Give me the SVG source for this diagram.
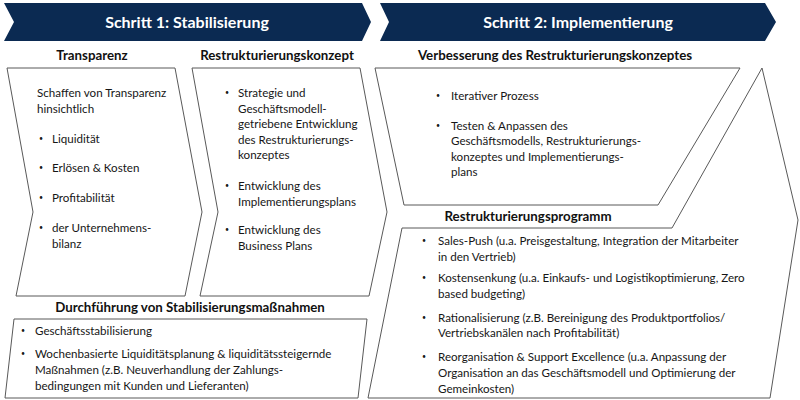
<svg xmlns="http://www.w3.org/2000/svg" width="800" height="400" viewBox="0 0 800 400">
<style>
.banner{fill:#0b2a52}
.box{fill:#ffffff;stroke:#595959;stroke-width:1}
.title{font-family:Lato,"Liberation Sans",sans-serif;font-size:16px;font-weight:bold;fill:#ffffff;text-anchor:middle}
.head{font-family:Lato,"Liberation Sans",sans-serif;font-size:13.3px;font-weight:bold;fill:#111111;text-anchor:middle}
.body{font-family:Lato,"Liberation Sans",sans-serif;font-size:11.6px;fill:#161616}
.bul{font-family:Lato,"Liberation Sans",sans-serif;font-size:7px;fill:#1a1a1a}
</style>
<rect width="800" height="400" fill="#ffffff"/>
<g id="step1">
<polygon class="banner" points="4,3 362,3 371,22 362,41 4,41 14,22"/>
<text class="title" x="187" y="28">Schritt 1: Stabilisierung</text>
</g>
<g id="step2">
<polygon class="banner" points="380,3 765,3 776,22 765,41 380,41 389,22"/>
<text class="title" x="578" y="28">Schritt 2: Implementierung</text>
</g>
<g id="transparenz">
<text class="head" x="92" y="60">Transparenz</text>
<polygon class="box" points="7,68 175,68 202,212 185,296 16,296 33,212"/>
<text class="body" x="37" y="97">Schaffen von Transparenz</text>
<text class="body" x="37" y="113">hinsichtlich</text>
<text class="bul" x="39" y="141">•</text><text class="body" x="52" y="143">Liquidität</text>
<text class="bul" x="39" y="170">•</text><text class="body" x="52" y="172">Erlösen &amp; Kosten</text>
<text class="bul" x="39" y="200">•</text><text class="body" x="52" y="202">Profitabilität</text>
<text class="bul" x="39" y="230">•</text><text class="body" x="52" y="232">der Unternehmens-</text>
<text class="body" x="52" y="248">bilanz</text>
</g>
<g id="restrukturierungskonzept">
<text class="head" x="277" y="60">Restrukturierungskonzept</text>
<polygon class="box" points="192,68 360,68 387,212 369,296 200,296 218,212"/>
<text class="bul" x="225" y="95">•</text><text class="body" x="238" y="97">Strategie und</text>
<text class="body" x="238" y="113">Geschäftsmodell-</text>
<text class="body" x="238" y="128">getriebene Entwicklung</text>
<text class="body" x="238" y="144">des Restrukturierungs-</text>
<text class="body" x="238" y="159">konzeptes</text>
<text class="bul" x="225" y="188">•</text><text class="body" x="238" y="190">Entwicklung des</text>
<text class="body" x="238" y="206">Implementierungsplans</text>
<text class="bul" x="225" y="232">•</text><text class="body" x="238" y="234">Entwicklung des</text>
<text class="body" x="238" y="250">Business Plans</text>
</g>
<g id="verbesserung">
<text class="head" x="555" y="60">Verbesserung des Restrukturierungskonzeptes</text>
<polygon class="box" points="375,68 740,68 658,205 404,205"/>
<text class="bul" x="436" y="98">•</text><text class="body" x="451" y="100">Iterativer Prozess</text>
<text class="bul" x="436" y="128">•</text><text class="body" x="451" y="130">Testen &amp; Anpassen des</text>
<text class="body" x="451" y="145">Geschäftsmodells, Restrukturierungs-</text>
<text class="body" x="451" y="161">konzeptes und Implementierungs-</text>
<text class="body" x="451" y="176">plans</text>
</g>
<g id="restrukturierungsprogramm">
<polygon class="box" points="402,228 672,228 762,68 798,220 770,398 368,398"/>
<text class="head" x="528" y="221">Restrukturierungsprogramm</text>
<text class="bul" x="422" y="243">•</text><text class="body" x="438" y="245">Sales-Push (u.a. Preisgestaltung, Integration der Mitarbeiter</text>
<text class="body" x="438" y="261">in den Vertrieb)</text>
<text class="bul" x="422" y="280">•</text><text class="body" x="438" y="282">Kostensenkung (u.a. Einkaufs- und Logistikoptimierung, Zero</text>
<text class="body" x="438" y="298">based budgeting)</text>
<text class="bul" x="422" y="320">•</text><text class="body" x="438" y="322">Rationalisierung (z.B. Bereinigung des Produktportfolios/</text>
<text class="body" x="438" y="337">Vertriebskanälen nach Profitabilität)</text>
<text class="bul" x="422" y="359">•</text><text class="body" x="438" y="361">Reorganisation &amp; Support Excellence (u.a.  Anpassung der</text>
<text class="body" x="438" y="377">Organisation an das Geschäftsmodell und Optimierung der</text>
<text class="body" x="438" y="393">Gemeinkosten)</text>
</g>
<g id="durchfuehrung">
<text class="head" x="190" y="312">Durchführung von Stabilisierungsmaßnahmen</text>
<polygon class="box" points="14,319 367,319 358,398 5,398"/>
<text class="bul" x="21" y="333">•</text><text class="body" x="35" y="335">Geschäftsstabilisierung</text>
<text class="bul" x="21" y="356">•</text><text class="body" x="35" y="358">Wochenbasierte Liquiditätsplanung &amp; liquiditätssteigernde</text>
<text class="body" x="35" y="374">Maßnahmen (z.B. Neuverhandlung der Zahlungs-</text>
<text class="body" x="35" y="390">bedingungen mit Kunden und Lieferanten)</text>
</g>
<g id="connectors"/>
</svg>
